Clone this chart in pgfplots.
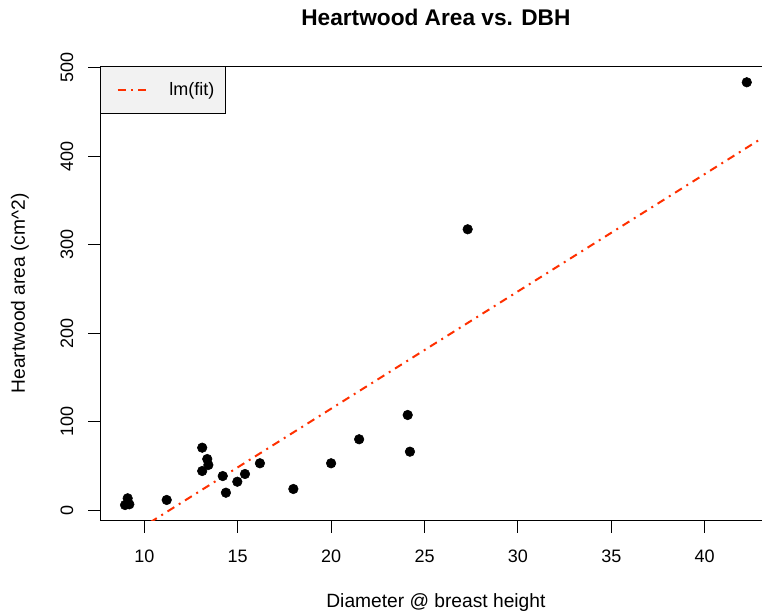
\documentclass[border=0pt]{standalone}
\usepackage{fontspec}
\setmainfont{Liberation Sans}
\usepackage{pgfplots}
\pgfplotsset{compat=1.18}
\definecolor{fitred}{RGB}{255,48,0}
\definecolor{legfill}{RGB}{242,242,242}
\pgfplotstableread{
x y
9.11 13.8
8.97 6.2
9.20 7.0
11.20 11.9
13.10 70.9
13.37 58.1
13.43 51.4
13.10 44.6
14.20 38.9
14.37 20.1
14.98 32.5
15.39 41.2
16.19 53.3
17.98 24.3
20.00 53.3
21.50 80.4
24.10 107.8
24.22 66.4
27.31 317.4
42.25 483.3
}\heartwood
\begin{document}
\begin{tikzpicture}
\path[use as bounding box] (0pt,0pt) rectangle (571.5pt,459.75pt);
\begin{axis}[
  at={(75.15pt,69.225pt)}, anchor=south west,
  scale only axis, width=503.55pt, height=340.9pt,
  xmin=7.64, xmax=43.58, ymin=-11.5, ymax=501.5,
  xtick={10,15,...,40}, ytick={0,100,...,500},
  tick align=outside, xtick pos=bottom, ytick pos=left,
  major tick length=9pt,
  tick style={black, line width=0.75pt},
  axis line style={line width=0.75pt},
  /pgf/number format/assume math mode=true,
  tick label style={font=\fontsize{13.5}{16}\selectfont},
  xticklabel style={anchor=center, yshift=-18pt},
  yticklabel style={anchor=center, rotate=90, yshift=16pt},
  label style={font=\fontsize{14.4}{17}\selectfont},
  xlabel={Diameter @ breast height},
  ylabel={Heartwood area (cm\textasciicircum 2)},
  xlabel style={at={(axis description cs:0.5,-0.181)}, anchor=center},
  ylabel style={at={(axis description cs:-0.1195,0.5)}, anchor=center},
  title={Heartwood Area vs. DBH},
  title style={at={(axis description cs:0.5,1.0895)}, anchor=center, font=\bfseries\fontsize{17}{20}\selectfont},
  legend style={at={(0,1)}, anchor=north west, draw=black, line width=0.75pt, fill=legfill,
    font=\fontsize{13.5}{16}\selectfont, inner xsep=6pt, inner ysep=9.75pt},
  legend cell align=left,
  legend image code/.code={\draw[#1] (6pt,0pt) -- (31pt,0pt); \path (0pt,0pt) (42pt,0pt);},
  clip=true,
]
\addplot[only marks, mark=*, mark size=3.6pt, black, forget plot] table[x=x,y=y] {\heartwood};
\addplot[fitred, line width=1.5pt, dash pattern=on 6pt off 4pt on 1.5pt off 4pt] coordinates {(0,-149.9) (50,512.1)};
\addlegendentry{lm(fit)}
\end{axis}
\end{tikzpicture}
\end{document}
